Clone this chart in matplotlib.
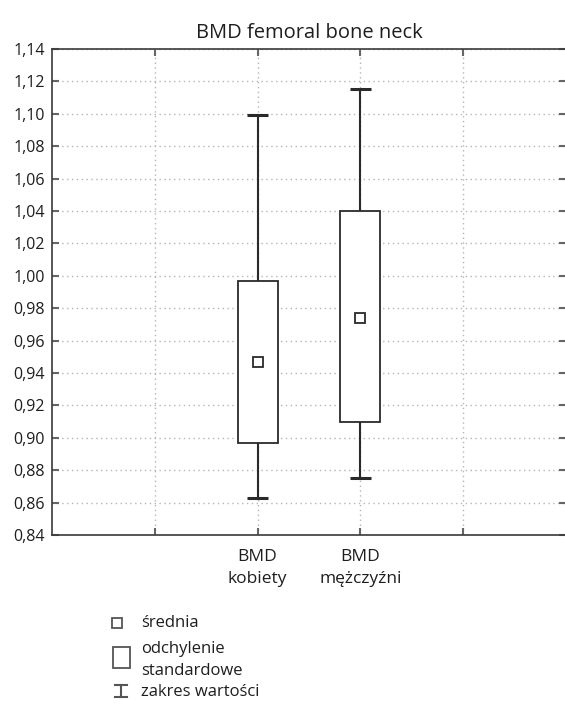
import numpy as np
import matplotlib.pyplot as plt
from matplotlib.patches import Rectangle

plt.rcParams['font.family'] = ['Open Sans', 'DejaVu Sans']

categories = ['BMD\nkobiety', 'BMD\nmężczyźni']
means = [0.947, 0.974]
sd_low = [0.897, 0.910]
sd_high = [0.997, 1.040]
min_vals = [0.863, 0.875]
max_vals = [1.0995, 1.1155]
y_ticks = np.arange(0.84, 1.1401, 0.02)
legend_labels = ['średnia', 'odchylenie\nstandardowe', 'zakres wartości']

W, H = 565, 706
fig = plt.figure(figsize=(W / 100, H / 100), dpi=100)
ax = fig.add_axes([52 / W, (H - 535) / H, 514 / W, 486 / H])

line_c = '#2a2a2a'
text_c = '#1e1e1e'
pos = np.array([2, 3])
box_w = 0.39
cap_w = 0.21

low = np.array(sd_low)
high = np.array(sd_high)
ax.bar(pos, high - low, bottom=low, width=box_w, color='white',
       edgecolor=line_c, linewidth=1.3, zorder=3)
ax.vlines(pos, min_vals, low, color=line_c, linewidth=1.5, zorder=3)
ax.vlines(pos, high, max_vals, color=line_c, linewidth=1.5, zorder=3)
ax.hlines(min_vals, pos - cap_w / 2, pos + cap_w / 2, color=line_c, linewidth=2.2, zorder=3)
ax.hlines(max_vals, pos - cap_w / 2, pos + cap_w / 2, color=line_c, linewidth=2.2, zorder=3)
ax.plot(pos, means, 's', markersize=7, markerfacecolor='white',
        markeredgecolor=line_c, markeredgewidth=1.3, zorder=4)

ax.set_xlim(0, 5)
ax.set_ylim(0.84, 1.14)
ax.set_yticks(y_ticks)
ax.set_yticklabels([f'{v:.2f}'.replace('.', ',') for v in y_ticks])
ax.set_xticks([1, 2, 3, 4])
ax.set_xticklabels(['', categories[0], categories[1], ''], linespacing=1.5, fontsize=12.5)
ax.tick_params(axis='both', direction='in', length=5, width=1.5, color='#666666',
               top=True, right=True, labelcolor=text_c)
ax.tick_params(axis='x', pad=10)
ax.tick_params(axis='y', pad=5, labelsize=11.5)
ax.grid(True, color='#b5b5b5', linestyle=(0, (1, 2.5)), linewidth=1.0)
ax.set_axisbelow(True)
for s in ['left', 'top', 'bottom']:
    ax.spines[s].set_color('#3a3a3a')
    ax.spines[s].set_linewidth(1.2)
ax.spines['right'].set_visible(False)
ax.set_title('BMD femoral bone neck', fontsize=14.5, color=text_c, pad=8)

# legend drawn in figure pixel coordinates
lax = fig.add_axes([0, 0, 1, 1], zorder=-1)
lax.set_xlim(0, W)
lax.set_ylim(H, 0)
lax.axis('off')
leg_c = '#555555'
lax.plot([117], [623], 's', markersize=6.5, markerfacecolor='white',
         markeredgecolor=leg_c, markeredgewidth=1.3)
lax.add_patch(Rectangle((113, 647), 17, 21, facecolor='white', edgecolor=leg_c, linewidth=1.3))
lax.plot([121, 121], [685, 697], color=leg_c, linewidth=1.5)
lax.plot([115, 127], [685, 685], color=leg_c, linewidth=1.5)
lax.plot([115, 127], [697, 697], color=leg_c, linewidth=1.5)
lax.text(141, 623, legend_labels[0], fontsize=12, va='center', color=text_c)
lax.text(141, 660, legend_labels[1], fontsize=12, va='center', color=text_c, linespacing=1.45)
lax.text(141, 692, legend_labels[2], fontsize=12, va='center', color=text_c)

fig.savefig('out.png', dpi=100)
